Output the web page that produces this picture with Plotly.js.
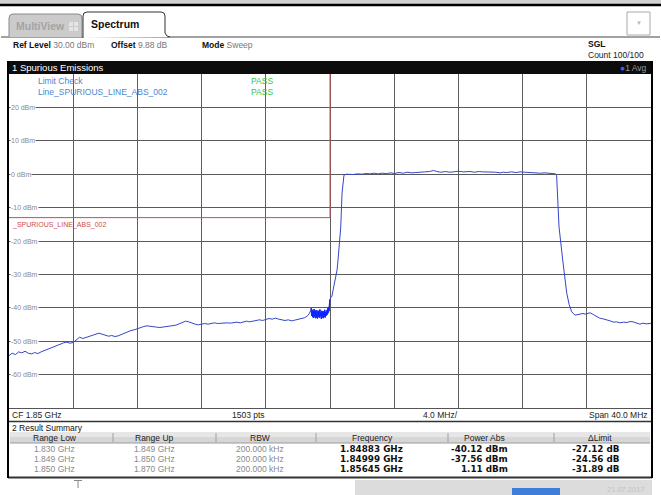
<!DOCTYPE html>
<html><head><meta charset="utf-8">
<script src="https://cdn.plot.ly/plotly-3.0.1.min.js"></script>
<style>html,body{margin:0;padding:0;background:#fff;}#chart{width:661px;height:495px;}</style>
</head><body><div id="chart"></div>
<script>
// ---------- data ----------
const freqGHz = [
1.8300,1.8302,1.8304,1.8306,1.8308,1.8310,1.8312,1.8314,1.8316,1.8318,
1.8320,1.8322,1.8324,1.8326,1.8328,1.8330,1.8332,1.8334,1.8336,1.8338,
1.8340,1.8342,1.8344,1.8346,1.8348,1.8350,1.8352,1.8354,1.8356,1.8358,
1.8360,1.8362,1.8364,1.8366,1.8368,1.8370,1.8372,1.8374,1.8376,1.8378,
1.8380,1.8382,1.8384,1.8386,1.8388,1.8390,1.8392,1.8394,1.8396,1.8398,
1.8400,1.8402,1.8404,1.8406,1.8408,1.8410,1.8412,1.8414,1.8416,1.8418,
1.8420,1.8422,1.8424,1.8426,1.8428,1.8430,1.8432,1.8434,1.8436,1.8438,
1.8440,1.8442,1.8444,1.8446,1.8448,1.8450,1.8452,1.8454,1.8456,1.8458,
1.8460,1.8462,1.8464,1.8466,1.8468,1.8470,1.8472,1.8474,1.8476,1.8478,
1.8480,1.8482,1.8484,1.8486,1.8487,1.8488,1.84883,
1.84886,1.84889,1.84892,1.84895,1.84898,1.84901,1.84904,1.84907,1.84910,1.84913,
1.84916,1.84919,1.84922,1.84925,1.84928,1.84931,1.84934,1.84937,1.84940,1.84943,
1.84946,1.84949,1.84952,1.84955,1.84958,1.84961,1.84964,1.84967,1.84970,1.84973,
1.84976,1.84979,1.84982,1.84985,1.84988,1.84991,1.84994,1.84997,1.84999,
1.85005,1.85012,1.85020,1.85031,1.85044,1.85050,1.85060,1.85067,1.85075,1.85082,1.85087,
1.85100,1.85120,1.85145,1.85170,1.85200,1.85225,1.85249,1.85275,1.85300,1.85325,
1.85353,1.85380,1.85400,1.85430,1.85457,1.85480,1.85510,1.85535,1.85561,1.85590,
1.85620,1.85645,1.85665,1.85690,1.85720,1.85745,1.85768,1.85800,1.85830,1.85850,
1.85872,1.85900,1.85930,1.85950,1.85976,1.86000,1.86030,1.86060,1.86080,1.86101,
1.86130,1.86160,1.86184,1.86210,1.86240,1.86260,1.86288,1.86310,1.86340,1.86370,
1.86391,1.86405,1.86412,1.86416,1.86427,1.86450,1.86475,1.86490,1.86506,1.86526,
1.86540,1.86555,1.86576,1.86590,1.86605,1.86620,1.86640,1.86662,1.86680,1.86700,
1.86724,1.86745,1.86765,1.86785,1.86807,1.86830,1.86850,1.86870,1.86888,1.86910,
1.86931,1.86950,1.86970,1.86994,1.87000
];
const levelDbm = [
-54.3,-53.6,-54.0,-53.2,-53.5,-53.0,-53.6,-53.8,-53.4,-53.7,
-53.2,-52.8,-52.5,-52.0,-51.7,-51.2,-50.8,-50.5,-50.3,-50.6,
-50.4,-49.6,-48.8,-49.2,-48.9,-48.6,-48.2,-48.0,-47.6,-47.9,
-48.2,-48.5,-48.3,-48.6,-48.4,-48.0,-47.5,-47.0,-46.8,-46.6,
-46.2,-45.9,-45.6,-45.4,-45.6,-45.7,-45.8,-45.9,-45.8,-45.7,
-45.6,-45.5,-45.2,-44.8,-44.3,-44.0,-44.2,-44.6,-44.9,-45.1,
-44.9,-44.7,-44.9,-44.8,-44.5,-44.7,-44.6,-44.4,-44.5,-44.6,
-44.4,-44.3,-44.5,-44.2,-44.0,-44.2,-44.0,-43.8,-43.6,-43.8,
-43.5,-43.2,-43.4,-43.1,-43.4,-43.7,-43.8,-43.6,-43.9,-43.7,
-43.5,-43.4,-43.0,-42.4,-41.8,-40.8,-40.12,
-42.4,-40.6,-42.8,-40.9,-43.0,-40.4,-42.6,-41.0,-43.1,-40.7,
-42.9,-41.3,-43.2,-40.8,-42.7,-41.1,-43.0,-40.5,-42.5,-41.4,
-43.3,-40.9,-42.8,-41.2,-43.1,-41.0,-42.6,-40.6,-42.9,-41.3,
-42.4,-40.8,-42.1,-40.2,-41.6,-39.8,-41.0,-39.0,-37.56,
-37.0,-36.5,-34.5,-31.7,-28.7,-25.7,-20.5,-15.8,-5.7,-1.5,-0.3,
0.0,-0.1,-0.1,0.1,0.0,0.2,0.1,0.3,0.1,0.3,
0.2,0.4,0.2,0.5,0.3,0.6,0.4,0.5,0.5,0.7,
0.8,1.11,0.8,0.6,0.8,0.6,0.7,0.9,0.7,0.8,
0.8,0.6,0.8,0.7,0.7,0.5,0.6,0.4,0.6,0.5,
0.7,0.5,0.7,0.6,0.5,0.4,0.5,0.3,0.4,0.3,
0.3,0.1,-0.5,-5.7,-15.8,-25.7,-35.6,-39.0,-41.2,-42.2,
-42.0,-41.9,-41.7,-41.9,-41.6,-41.5,-42.0,-42.7,-43.1,-43.3,
-43.5,-43.9,-44.3,-44.2,-44.5,-44.3,-44.4,-44.1,-44.2,-44.6,
-44.9,-44.6,-44.8,-44.7,-44.6
];
const limitFreqGHz = [1.830, 1.850, 1.850];
const limitLevelDbm = [-13, -13, 30];
const yTickVals = [20, 10, 0, -10, -20, -30, -40, -50, -60];
const yTickText = ['20 dBm','10 dBm','0 dBm','-10 dBm','-20 dBm','-30 dBm','-40 dBm','-50 dBm','-60 dBm'];
const limitLineName = '_SPURIOUS_LINE_ABS_002';
const summaryHeaders = ['Range Low','Range Up','RBW','Frequency','Power Abs','ΔLimit'];
const rangeLow = ['1.830 GHz','1.849 GHz','1.850 GHz'];
const rangeUp = ['1.849 GHz','1.850 GHz','1.870 GHz'];
const rbw = ['200.000 kHz','200.000 kHz','200.000 kHz'];
const peakFreq = ['1.84883 GHz','1.84999 GHz','1.85645 GHz'];
const powerAbs = ['-40.12 dBm','-37.56 dBm','1.11 dBm'];
const deltaLimit = ['-27.12 dB','-24.56 dB','-31.89 dB'];

// ---------- geometry helpers (pixel -> paper) ----------
const L = 9, R = 651, T = 74, B = 408;
const px = x => (x - L) / (R - L);
const py = y => (B - y) / (B - T);
const UI = 'Liberation Sans, Arial, sans-serif';
const BOLD = 'DejaVu Sans, Verdana, sans-serif';

const shapes = [];
const annotations = [];
function rect(x0, y0, x1, y1, fill, line, lw, layer) {
  shapes.push({type:'rect', xref:'paper', yref:'paper', x0:px(x0), x1:px(x1), y0:py(y1), y1:py(y0),
    fillcolor: fill || 'rgba(0,0,0,0)', line:{color: line || 'rgba(0,0,0,0)', width: lw || 0}, layer: layer || 'above'});
}
function hline(x0, x1, y, color, w) {
  shapes.push({type:'line', xref:'paper', yref:'paper', x0:px(x0), x1:px(x1), y0:py(y), y1:py(y), line:{color, width:w||1}, layer:'above'});
}
function vline(x, y0, y1, color, w) {
  shapes.push({type:'line', xref:'paper', yref:'paper', x0:px(x), x1:px(x), y0:py(y0), y1:py(y1), line:{color, width:w||1}, layer:'above'});
}
function text(x, y, t, size, color, anchor, family) {
  annotations.push({xref:'paper', yref:'paper', x:px(x), y:py(y), text:t, showarrow:false,
    xanchor: anchor || 'left', yanchor:'middle', font:{family: family || UI, size: size, color: color}});
}
function pathShape(pts, fill, line, lw) {
  const d = pts.map((p, i) => (i ? 'L' : 'M') + px(p[0]) + ',' + py(p[1])).join(' ');
  shapes.push({type:'path', xref:'paper', yref:'paper', path:d, fillcolor:fill, line:{color:line, width:lw||1}, layer:'above'});
}

// top window bar
rect(-20, -5, 700, 4, '#d2d2d2');
hline(-20, 700, 5, '#000', 2.5);
// tab baseline
hline(1, 660, 37, '#444', 1);
// MultiView tab
pathShape([[9,37],[9,18],[10,15],[13,14],[78,14],[81,15],[82,18],[82,37]], '#cbcbcb', '#8a8a8a', 1);
text(14, 26, '<b>MultiView</b>', 10.5, '#a3a3a3');
rect(69, 22, 73, 26, '#e4e4e4'); rect(74, 22, 78, 26, '#e4e4e4');
rect(69, 27, 73, 31, '#e4e4e4'); rect(74, 27, 78, 31, '#e4e4e4');
// Spectrum tab
pathShape([[83,38],[83,16],[84,13],[87,12],[161,12],[164,13],[165,16],[165,33],[167,36],[170,37]], '#ffffff', '#333', 1);
text(89, 24, '<b>Spectrum</b>', 10.5, '#111');
// dropdown box
rect(627, 12, 650, 35, '#ffffff', '#aaaaaa', 1);
text(638.5, 23, '▼', 6, '#b5b5b5', 'center');
// info row
text(11, 45, '<b>Ref Level</b> <span style="color:#777">30.00 dBm</span>', 8.5, '#111');
text(109, 45, '<b>Offset</b> <span style="color:#777">9.88 dB</span>', 8.5, '#111');
text(200, 45, '<b>Mode</b> <span style="color:#777">Sweep</span>', 8.5, '#111');
text(586, 44, '<b>SGL</b>', 8.5, '#111');
text(586, 55, 'Count 100/100', 8.5, '#222');
// black window header
rect(8, 61, 652, 74, '#0c0c0c');
text(10, 67.5, '1 Spurious Emissions', 9.5, '#ffffff');
text(649, 67.5, '<span style="color:#3b5bff">●</span>1 Avg', 8.5, '#9a9a9a', 'right');
// plot bottom + footer
hline(8, 652, 408.5, '#555', 1);
text(10, 414.5, 'CF 1.85 GHz', 8.5, '#222');
text(248, 414.5, '1503 pts', 8.5, '#222', 'center');
text(440, 414.5, '4.0 MHz/', 8.5, '#222', 'center');
text(650, 414.5, 'Span 40.0 MHz', 8.5, '#222', 'right');
hline(8, 652, 421.5, '#333', 1.5);
// result summary
text(10, 427.5, '2 Result Summary', 8.5, '#111');
rect(10, 432, 650, 443, '#d6d6d6');
rect(10, 432, 650, 437, '#e6e6e6');
hline(10, 650, 443, '#9a9a9a', 1);
const colSep = [113, 216, 316, 448, 554];
colSep.forEach(x => vline(x, 433, 442, '#a0a0a0', 1));
const colCenter = [55, 154, 260, 372, 484, 600];
summaryHeaders.forEach((h, i) => text(colCenter[i], 437.5, h, 8.5, '#222', 'center'));
const rowY = [448.5, 458.5, 468.5];
const valRight = [405, 510, 622];
rowY.forEach((y, r) => {
  text(colCenter[0], y, rangeLow[r], 8.5, '#8a8a8a', 'center');
  text(colCenter[1], y, rangeUp[r], 8.5, '#8a8a8a', 'center');
  text(colCenter[2], y, rbw[r], 8.5, '#8a8a8a', 'center');
  text(valRight[0], y, '<b>' + peakFreq[r] + '</b>', 8.8, '#111', 'right', BOLD);
  text(valRight[1], y, '<b>' + powerAbs[r] + '</b>', 8.8, '#111', 'right', BOLD);
  text(valRight[2], y, '<b>' + deltaLimit[r] + '</b>', 8.8, '#111', 'right', BOLD);
});
hline(8, 652, 477.5, '#333', 2);
// frame borders
vline(8, 61, 478, '#000', 2);
vline(652, 61, 478, '#000', 2);
// bottom strip
vline(78, 480, 488, '#888', 1);
hline(74, 82, 480.5, '#888', 1);
rect(355, 480, 652, 496, '#dcdcdc');
rect(512, 488, 560, 496, '#3d7fd8');
text(626, 489, '21.07.2017', 7.5, '#c4c4c4', 'center');

// plot-area labels
text(36, 80.5, 'Limit Check', 8.5, '#4a86d0');
text(36, 92, 'Line_SPURIOUS_LINE_ABS_002', 8.5, '#4a86d0');
text(249, 80.5, 'PASS', 8.5, '#3cc43c');
text(249, 92, 'PASS', 8.5, '#3cc43c');

// y tick labels (positioned through the y axis)
yTickVals.forEach((v, i) => annotations.push({xref:'paper', yref:'y', x:px(10), y:v, text:yTickText[i],
  showarrow:false, xanchor:'left', yanchor:'middle', bgcolor:'#ffffff', borderpad:0,
  font:{family:UI, size:7, color:'#8a8a8a'}}));
// limit line label
annotations.push({xref:'paper', yref:'y', x:px(10), y:limitLevelDbm[0], yshift:-1, text:limitLineName,
  showarrow:false, xanchor:'left', yanchor:'top', font:{family:UI, size:7, color:'#d04a4a'}});

// noisy segment near the band edge drawn again in saturated blue, as on the analyzer
const noiseStart = freqGHz.indexOf(1.84883), noiseEnd = freqGHz.indexOf(1.84999);
const traces = [
  {x:limitFreqGHz, y:limitLevelDbm, type:'scatter', mode:'lines', line:{color:'#d24b4b', width:1}, hoverinfo:'skip'},
  {x:freqGHz, y:levelDbm, type:'scatter', mode:'lines', line:{color:'#3446c8', width:1}, hoverinfo:'skip'},
  {x:freqGHz.slice(noiseStart, noiseEnd + 1), y:levelDbm.slice(noiseStart, noiseEnd + 1), type:'scatter', mode:'lines',
   line:{color:'#1024ff', width:1.3}, hoverinfo:'skip'}
];

const layout = {
  width:661, height:495, showlegend:false,
  margin:{l:L, r:661-R, t:T, b:495-B, pad:0},
  paper_bgcolor:'#ffffff', plot_bgcolor:'#ffffff',
  xaxis:{range:[1.83, 1.87], tick0:1.83, dtick:0.004, showgrid:true, gridcolor:'#5e5e5e', gridwidth:1,
    showticklabels:false, ticks:'', zeroline:false, showline:false, fixedrange:true},
  yaxis:{range:[-70, 30], tick0:-70, dtick:10, showgrid:true, gridcolor:'#5a5a5a', gridwidth:1,
    showticklabels:false, ticks:'', zeroline:false, showline:false, fixedrange:true},
  shapes, annotations
};
Plotly.newPlot('chart', traces, layout, {displayModeBar:false, staticPlot:true});
</script>
</body></html>
